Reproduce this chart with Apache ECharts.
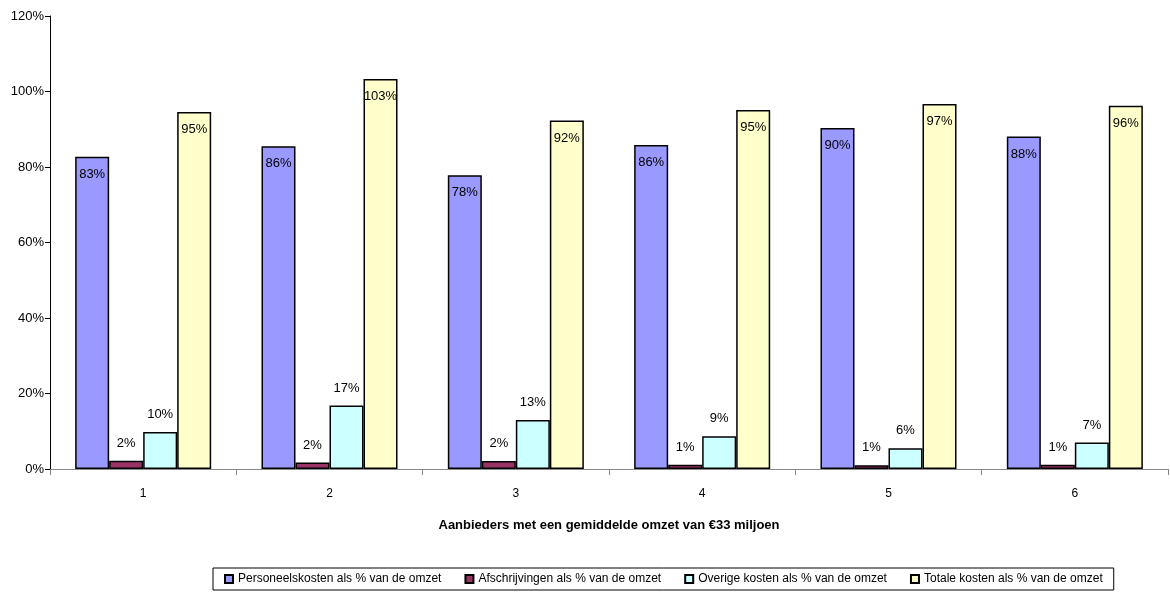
<!DOCTYPE html>
<html>
<head>
<meta charset="utf-8">
<script src="https://cdn.jsdelivr.net/npm/echarts@6/dist/echarts.min.js"></script>
<style>
  html, body { margin: 0; padding: 0; background: #fff; }
  #chart { width: 1170px; height: 592px; }
</style>
</head>
<body>
<div id="chart"></div>
<script>
// Cost ratios per provider group (fraction of turnover)
const categories = ['1', '2', '3', '4', '5', '6'];
const personeelskosten = [0.827, 0.855, 0.778, 0.858, 0.903, 0.881];
const afschrijvingen   = [0.022, 0.017, 0.021, 0.011, 0.010, 0.011];
const overigeKosten    = [0.098, 0.168, 0.130, 0.087, 0.055, 0.070];
const totaleKosten     = [0.946, 1.033, 0.923, 0.951, 0.967, 0.962];
const yTicks = [0, 0.2, 0.4, 0.6, 0.8, 1.0, 1.2];

const seriesNames = [
  'Personeelskosten als % van de omzet',
  'Afschrijvingen als % van de omzet',
  'Overige kosten als % van de omzet',
  'Totale kosten als % van de omzet'
];
const seriesData = [personeelskosten, afschrijvingen, overigeKosten, totaleKosten];
const colors = ['#9999FF', '#993366', '#CCFFFF', '#FFFFCC'];
const labelPos = ['insideTop', 'top', 'top', 'insideTop'];

const font = 'Liberation Sans, Arial, sans-serif';
const pct = v => Math.round(v * 100) + '%';

const chart = echarts.init(document.getElementById('chart'), null, { renderer: 'canvas' });

chart.setOption({
  animation: false,
  backgroundColor: '#ffffff',
  grid: { left: 50, right: 2, top: 16, bottom: 123 },
  legend: {
    bottom: 2,
    left: 213,
    icon: 'rect',
    itemWidth: 8,
    itemHeight: 8,
    itemGap: 23,
    padding: [5, 11, 5, 11],
    borderColor: '#000',
    borderWidth: 1,
    textStyle: { fontFamily: font, fontSize: 12, color: '#000' },
    data: seriesNames
  },
  xAxis: {
    type: 'category',
    data: categories,
    name: 'Aanbieders met een gemiddelde omzet van €33 miljoen',
    nameLocation: 'middle',
    nameGap: 50,
    nameTextStyle: { fontFamily: font, fontSize: 13, fontWeight: 'bold', color: '#000' },
    axisLine: { lineStyle: { color: '#888', width: 1 } },
    axisTick: { show: true, length: 6, lineStyle: { color: '#888' } },
    axisLabel: { fontFamily: font, fontSize: 12, color: '#000', margin: 19 },
    splitLine: { show: false }
  },
  yAxis: {
    type: 'value',
    min: yTicks[0],
    max: yTicks[yTicks.length - 1],
    interval: 0.2,
    axisLine: { show: true, lineStyle: { color: '#000', width: 1 } },
    axisTick: { show: true, length: 5, lineStyle: { color: '#000' } },
    axisLabel: { fontFamily: font, fontSize: 13, color: '#000', formatter: pct, margin: 6 },
    splitLine: { show: false }
  },
  series: seriesData.map((d, i) => ({
    name: seriesNames[i],
    type: 'bar',
    data: d,
    barGap: '0%',
    barCategoryGap: '27%',
    itemStyle: { color: colors[i], borderColor: '#000', borderWidth: 1.5 },
    label: {
      show: true,
      position: labelPos[i],
      distance: 11,
      formatter: p => pct(p.value),
      fontFamily: font,
      fontSize: 13,
      color: '#000'
    }
  }))
});
</script>
</body>
</html>
